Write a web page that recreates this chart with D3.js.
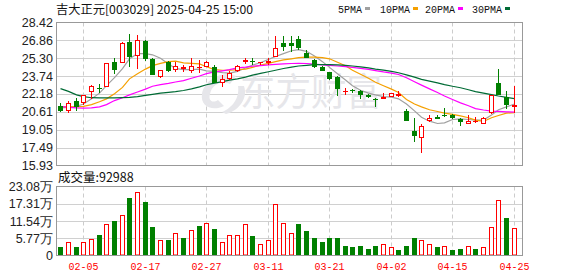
<!DOCTYPE html>
<html>
<head>
<meta charset="utf-8">
<script src="https://cdn.jsdelivr.net/npm/d3@7"></script>
<style>
  body { margin: 0; background: #fff; }
  svg { display: block; }
</style>
</head>
<body>
<div id="chart"></div>
<script>
// trading days shown (MM-DD, 2025)
const dates = ["01-23","01-24","01-27","02-05","02-06","02-07","02-10","02-11","02-12","02-13",
  "02-14","02-17","02-18","02-19","02-20","02-21","02-24","02-25","02-26","02-27",
  "02-28","03-03","03-04","03-05","03-06","03-07","03-10","03-11","03-12","03-13",
  "03-14","03-17","03-18","03-19","03-20","03-21","03-24","03-25","03-26","03-27",
  "03-28","03-31","04-01","04-02","04-03","04-07","04-08","04-09","04-10","04-11",
  "04-14","04-15","04-16","04-17","04-18","04-21","04-22","04-23","04-24","04-25"];

const open = [21.13,20.67,21.54,21.36,22.35,22.72,22.81,24.95,24.89,26.69,
  25.47,26.80,25.24,23.62,25.01,24.26,24.32,24.20,24.49,24.55,
  24.49,23.16,23.45,24.20,25.01,25.07,24.84,24.84,25.41,26.63,
  26.62,26.97,25.75,25.12,24.54,24.08,23.68,22.40,22.50,22.41,
  22.06,21.77,21.72,21.95,22.00,20.67,18.94,18.30,19.86,20.20,
  20.30,20.38,20.03,19.57,19.70,19.57,20.50,23.10,21.89,21.02];
const high = [21.36,21.54,21.83,22.12,22.99,23.05,24.90,25.30,26.75,27.44,
  27.33,26.86,25.30,24.30,25.07,24.95,24.72,25.36,25.13,25.07,
  24.72,23.85,24.20,24.67,25.36,25.30,25.01,25.30,27.26,27.26,
  27.20,27.20,26.05,25.24,24.60,24.14,23.74,22.70,22.58,22.50,
  22.15,21.80,22.24,22.30,22.44,20.84,20.09,19.57,20.32,20.32,
  20.95,20.44,20.09,20.38,20.20,20.20,22.12,24.32,22.41,22.87];
const low = [20.61,20.50,20.73,21.19,21.77,22.29,22.75,23.91,24.84,24.49,
  24.32,25.08,23.80,23.58,24.10,24.10,24.14,23.97,24.03,24.50,
  23.10,22.81,23.40,24.10,24.80,24.72,24.72,24.72,25.38,25.94,
  25.84,26.05,25.30,24.43,24.15,23.39,22.00,22.12,22.30,21.77,
  21.85,21.07,21.70,21.92,21.89,19.80,18.01,17.03,19.69,19.98,
  20.20,20.03,19.34,19.57,19.63,19.52,20.44,22.06,20.90,20.50];
const close = [20.67,21.42,21.02,22.06,22.87,22.66,24.84,24.26,26.63,25.42,
  26.86,25.19,23.85,24.26,24.20,24.61,24.55,24.61,24.55,25.01,
  23.16,23.45,24.03,24.61,25.13,24.95,24.97,25.07,26.22,26.25,
  26.40,26.17,25.35,24.54,24.20,23.50,22.58,22.47,22.42,22.12,
  21.89,21.68,21.95,22.24,22.15,19.86,18.53,19.40,20.09,20.03,
  20.26,20.09,19.75,19.80,19.78,20.09,22.06,22.12,21.20,21.25];
const prevClose = 21.30; // close of the day before the first one shown

const ma5 = [20.96,21.00,21.10,21.30,21.75,22.25,22.90,23.60,24.40,25.25,
  25.70,25.70,25.60,25.30,24.80,24.40,24.30,24.30,24.35,24.20,
  24.15,24.05,24.00,24.15,24.45,24.70,24.90,25.20,25.45,25.70,
  25.95,26.05,25.90,25.50,25.00,24.50,23.95,23.40,22.90,22.50,
  22.25,22.10,21.95,21.90,21.75,21.30,20.70,20.15,19.80,19.60,
  19.65,19.95,20.00,19.95,19.90,19.90,20.35,20.80,21.05,21.30];
const ma10 = [21.05,21.05,21.05,21.10,21.25,21.50,21.75,22.20,22.75,23.50,
  23.95,24.35,24.65,24.85,25.00,25.05,24.90,24.85,24.80,24.55,
  24.30,24.25,24.25,24.30,24.35,24.50,24.70,24.85,25.00,25.15,
  25.25,25.35,25.40,25.40,25.35,25.25,24.95,24.65,24.25,23.90,
  23.55,23.20,22.90,22.60,22.30,21.70,21.30,21.05,20.80,20.65,
  20.50,20.40,20.27,20.10,19.90,19.78,20.10,20.30,20.50,20.55];
const ma20 = [21.10,21.00,20.96,20.95,20.96,21.05,21.25,21.60,21.85,22.10,
  22.35,22.60,22.85,23.00,23.10,23.22,23.35,23.55,23.75,23.95,
  24.10,24.20,24.30,24.45,24.52,24.60,24.66,24.72,24.76,24.80,
  24.84,24.85,24.84,24.78,24.72,24.68,24.62,24.56,24.50,24.42,
  24.32,24.22,24.10,24.00,23.88,23.60,23.25,22.95,22.62,22.30,
  22.00,21.70,21.40,21.15,20.90,20.78,20.68,20.65,20.62,20.60];
const ma30 = [22.64,22.40,22.10,21.95,21.85,21.83,21.83,21.83,21.85,21.88,
  21.94,22.05,22.15,22.25,22.32,22.38,22.48,22.62,22.80,22.98,
  23.12,23.25,23.38,23.50,23.65,23.82,23.98,24.12,24.25,24.40,
  24.52,24.62,24.68,24.74,24.75,24.74,24.72,24.68,24.62,24.55,
  24.45,24.35,24.26,24.15,24.03,23.85,23.65,23.45,23.30,23.15,
  23.00,22.85,22.72,22.55,22.38,22.25,22.12,22.00,21.88,21.77];

// volume, in 万 shares
const volume = [3.01,4.35,3.01,4.57,5.57,6.69,10.60,11.70,13.71,19.07,
  21.30,17.73,9.70,5.24,5.24,7.69,5.69,8.58,10.03,10.92,
  9.03,4.57,6.91,6.91,10.60,6.58,3.90,5.24,17.29,10.92,
  7.58,10.37,8.03,5.69,4.46,5.69,6.02,3.34,2.68,3.34,
  2.34,3.34,3.68,2.90,2.00,3.34,5.69,5.02,4.01,3.01,
  3.34,2.00,2.34,3.34,2.34,2.68,9.70,18.73,12.71,9.2988];

const priceTicks = ["15.93","17.49","19.05","20.61","22.18","23.74","25.30","26.86","28.42"];
const volTicks = ["0","5.77","11.54","17.31","23.08"];
const dateTicks = ["02-05","02-17","02-27","03-11","03-21","04-02","04-15","04-25"];

const maSeries = [
  { name: "5PMA", values: ma5, colour: "#a0a0a0" },
  { name: "10PMA", values: ma10, colour: "#f5a000" },
  { name: "20PMA", values: ma20, colour: "#ff00ff" },
  { name: "30PMA", values: ma30, colour: "#006b35" }
];

const UP = "#ff0000", DOWN = "#008000";
const W = 578, H = 276;
const left = 56.5, right = 522.5;
const mainTop = 22.5, mainBottom = 165.5;
const volTop = 186.5, volBottom = 255.5;

const svg = d3.select("#chart").append("svg")
  .attr("width", W).attr("height", H)
  .attr("viewBox", `0 0 ${W} ${H}`);

const x = d3.scaleBand().domain(dates).range([56.36, 517.5]);
const cx = d => Math.round(x(d) + x.bandwidth() / 2);
const y = d3.scaleLinear().domain([+priceTicks[0], +priceTicks[priceTicks.length - 1]]).range([mainBottom, mainTop]);
const yv = d3.scaleLinear().domain([0, +volTicks[volTicks.length - 1]]).range([volBottom, volTop]);

// grid
const grid = svg.append("g");
grid.selectAll("line.hp")
  .data(priceTicks.slice(1, -1))
  .join("line")
  .attr("x1", left).attr("x2", right)
  .attr("y1", d => Math.round(y(+d)) + 0.5).attr("y2", d => Math.round(y(+d)) + 0.5)
  .attr("stroke", "#d0d0d0");
grid.selectAll("line.hv")
  .data(volTicks.slice(1, -1))
  .join("line")
  .attr("x1", left).attr("x2", right)
  .attr("y1", d => Math.round(yv(+d)) + 0.5).attr("y2", d => Math.round(yv(+d)) + 0.5)
  .attr("stroke", "#d0d0d0");
[[mainTop, mainBottom], [volTop, volBottom]].forEach(([t, b]) => {
  grid.append("g").selectAll("line")
    .data(dateTicks)
    .join("line")
    .attr("x1", d => cx(d) + 0.5).attr("x2", d => cx(d) + 0.5)
    .attr("y1", t).attr("y2", b)
    .attr("stroke", "#cccccc")
    .attr("stroke-dasharray", "4,3");
});

// watermark
const wm = svg.append("g").attr("fill", "#e6e6ea");
wm.append("path")
  .attr("d", "M236,76 C222,70 204,80 202,94 C200,106 212,112 224,106 L218,100 C212,104 208,100 210,94 C212,84 222,80 230,84 Z M238,86 C240,98 232,108 222,112 L226,114 C240,110 248,98 244,86 Z");
wm.append("text")
  .attr("x", 240).attr("y", 105)
  .attr("font-family", "'Noto Sans CJK SC', sans-serif")
  .attr("font-size", 38)
  .attr("textLength", 142)
  .attr("lengthAdjust", "spacingAndGlyphs")
  .text("东方财富");

// moving averages
const line = d3.line().x((d, i) => cx(dates[i]) + 0.5).y(d => y(d));
svg.append("g").selectAll("path")
  .data(maSeries)
  .join("path")
  .attr("d", d => line(d.values))
  .attr("fill", "none")
  .attr("stroke", d => d.colour)
  .attr("stroke-width", 1.2);

// candles
const candles = dates.map((d, i) => ({ d, o: open[i], h: high[i], l: low[i], c: close[i] }));
const cg = svg.append("g").selectAll("g")
  .data(candles)
  .join("g");
cg.append("line")
  .attr("x1", d => cx(d.d) + 0.5).attr("x2", d => cx(d.d) + 0.5)
  .attr("y1", d => Math.round(y(d.h))).attr("y2", d => Math.round(y(d.l)))
  .attr("stroke", d => d.c >= d.o ? UP : DOWN);
cg.each(function(d) {
  const g = d3.select(this);
  const c = cx(d.d);
  const top = Math.round(y(Math.max(d.o, d.c)));
  const bot = Math.round(y(Math.min(d.o, d.c)));
  if (d.c >= d.o) {
    if (bot - top < 2) {
      g.append("rect").attr("x", c - 2).attr("y", top).attr("width", 5).attr("height", Math.max(1, bot - top)).attr("fill", UP);
    } else {
      g.append("rect").attr("x", c - 1.5).attr("y", top + 0.5).attr("width", 4).attr("height", bot - top - 1)
        .attr("fill", "#fff").attr("stroke", UP);
    }
  } else {
    g.append("rect").attr("x", c - 2).attr("y", top).attr("width", 5).attr("height", Math.max(1, bot - top)).attr("fill", DOWN);
  }
});

// volume bars, coloured by close against previous close
svg.append("g").selectAll("rect")
  .data(volume)
  .join("rect")
  .each(function(v, i) {
    const up = close[i] >= (i === 0 ? prevClose : close[i - 1]);
    const c = cx(dates[i]);
    const t = Math.round(yv(v));
    const r = d3.select(this);
    if (up) {
      r.attr("x", c - 1.5).attr("y", t + 0.5).attr("width", 4).attr("height", 255 - t - 0.5)
        .attr("fill", "#fff").attr("stroke", UP);
    } else {
      r.attr("x", c - 2).attr("y", t).attr("width", 5).attr("height", 255 - t).attr("fill", DOWN);
    }
  });

// frames
[[mainTop, mainBottom], [volTop, volBottom]].forEach(([t, b]) => {
  svg.append("rect")
    .attr("x", left).attr("y", t).attr("width", right - left).attr("height", b - t)
    .attr("fill", "none").attr("stroke", "#999");
});

// axis labels
const labelFont = "Arial, 'Liberation Sans', sans-serif";
svg.append("g").selectAll("text")
  .data(priceTicks)
  .join("text")
  .attr("x", 53).attr("y", d => y(+d))
  .attr("dy", "0.36em")
  .attr("text-anchor", "end")
  .attr("font-family", labelFont).attr("font-size", 12.5)
  .attr("fill", "#222")
  .text(d => d);
svg.append("g").selectAll("text")
  .data(volTicks)
  .join("text")
  .attr("x", 53).attr("y", d => yv(+d))
  .attr("dy", "0.36em")
  .attr("text-anchor", "end")
  .attr("font-family", labelFont).attr("font-size", 12.5)
  .attr("fill", "#222")
  .text(d => d === "0" ? d : d + "万");
svg.append("g").selectAll("text")
  .data(dateTicks)
  .join("text")
  .attr("x", d => cx(d) + 0.5).attr("y", 270)
  .attr("text-anchor", "middle")
  .attr("font-family", "'Liberation Mono', monospace").attr("font-size", 11)
  .attr("textLength", 30).attr("lengthAdjust", "spacingAndGlyphs")
  .attr("fill", "#ff0000")
  .text(d => d);

// titles
svg.append("text")
  .attr("x", 56).attr("y", 14)
  .attr("font-family", "'Noto Sans CJK SC', sans-serif").attr("font-size", 12)
  .attr("textLength", 197).attr("lengthAdjust", "spacingAndGlyphs")
  .attr("fill", "#111")
  .text("吉大正元[003029] 2025-04-25 15:00");
svg.append("text")
  .attr("x", 58).attr("y", 182)
  .attr("font-family", "'Noto Sans CJK SC', sans-serif").attr("font-size", 12.5)
  .attr("fill", "#111")
  .text("成交量:" + Math.round(volume[volume.length - 1] * 10000));

// legend
const legendX = [338, 380, 425, 472];
const lg = svg.append("g").selectAll("g")
  .data(maSeries)
  .join("g")
  .attr("transform", (d, i) => `translate(${legendX[i]},0)`);
lg.append("text")
  .attr("x", 0).attr("y", 12.5)
  .attr("font-family", "'Liberation Mono', monospace").attr("font-size", 11)
  .attr("textLength", d => d.name.length * 6).attr("lengthAdjust", "spacingAndGlyphs")
  .attr("fill", "#111")
  .text(d => d.name);
lg.append("rect")
  .attr("x", d => d.name.length * 6 + 3).attr("y", 7).attr("width", 5).attr("height", 3)
  .attr("fill", d => d.colour);
</script>
</body>
</html>
